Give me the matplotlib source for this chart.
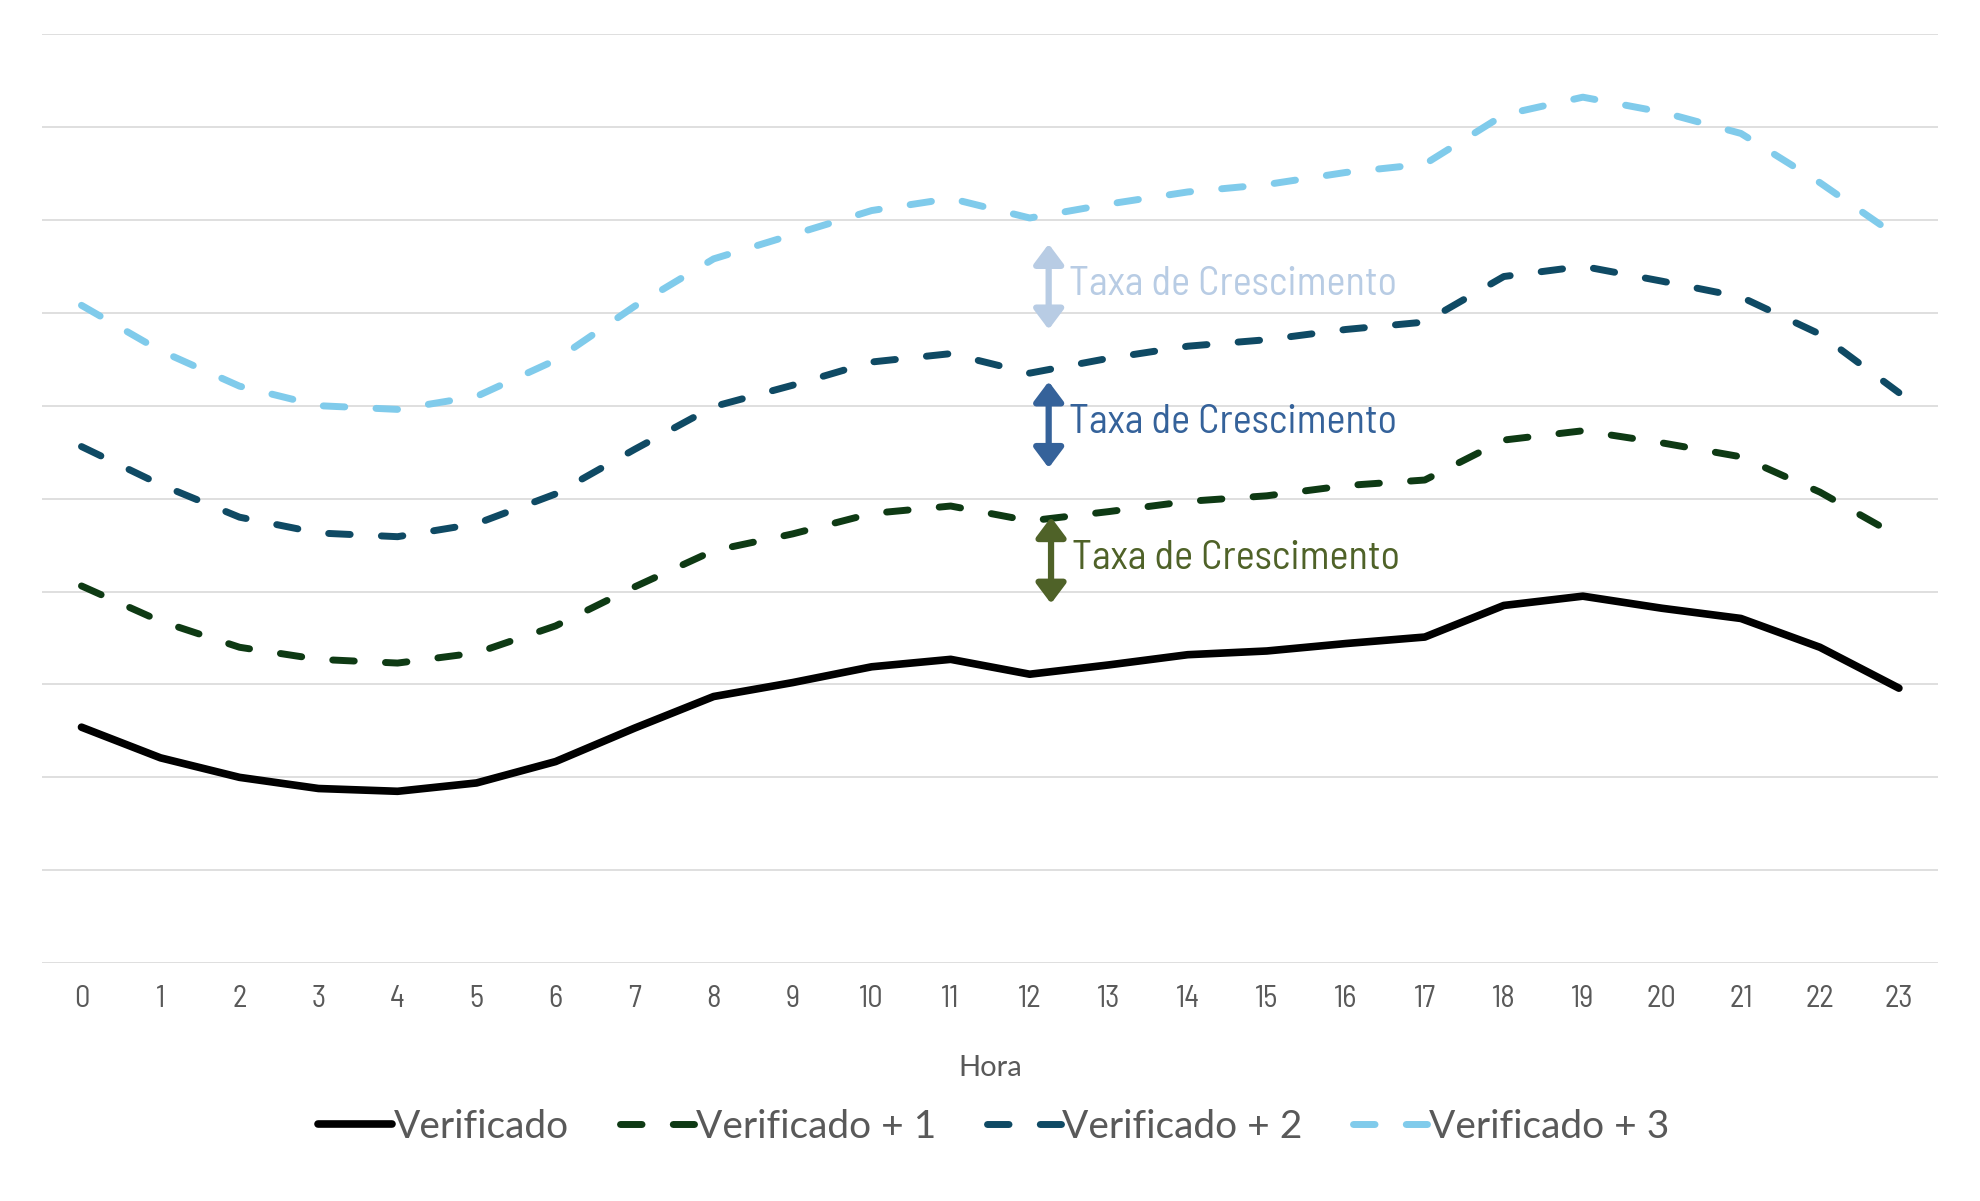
import matplotlib.pyplot as plt

horas = list(range(24))

verificado = [2.54, 2.21, 2.00, 1.88, 1.85, 1.94, 2.17, 2.53, 2.87, 3.02, 3.19, 3.27,
              3.11, 3.21, 3.32, 3.36, 3.44, 3.51, 3.85, 3.95, 3.82, 3.71, 3.40, 2.96]
verificado_1 = [4.06, 3.68, 3.40, 3.27, 3.23, 3.34, 3.63, 4.05, 4.44, 4.62, 4.84, 4.92,
                4.76, 4.86, 4.97, 5.03, 5.14, 5.20, 5.63, 5.73, 5.60, 5.45, 5.07, 4.59]
verificado_2 = [5.56, 5.15, 4.80, 4.63, 4.59, 4.73, 5.05, 5.53, 5.99, 6.22, 6.47, 6.56,
                6.35, 6.51, 6.64, 6.71, 6.82, 6.90, 7.39, 7.50, 7.34, 7.17, 6.77, 6.14]
verificado_3 = [7.08, 6.59, 6.21, 6.00, 5.96, 6.10, 6.49, 7.07, 7.58, 7.84, 8.10, 8.23,
                8.02, 8.17, 8.30, 8.38, 8.51, 8.60, 9.13, 9.32, 9.16, 8.93, 8.40, 7.81]

series = [
    ("Verificado", verificado, "#000000", None),
    ("Verificado + 1", verificado_1, "#0E3A14", (3.1, 4.5)),
    ("Verificado + 2", verificado_2, "#0F4A64", (3.1, 4.5)),
    ("Verificado + 3", verificado_3, "#80CBEB", (3.1, 4.5)),
]

# setas "Taxa de Crescimento": (x, y de baixo, y de cima, cor)
setas = [
    (12.24, 6.82, 7.74, "#B8CCE4"),
    (12.24, 5.33, 6.26, "#35629A"),
    (12.27, 3.87, 4.80, "#4F6228"),
]

narrow = ["Barlow Semi Condensed", "DejaVu Sans"]
normal = ["Lato", "DejaVu Sans"]

fig = plt.figure(figsize=(19.8, 12.01), dpi=100)
ax = fig.add_axes([0.0212, 0.198, 0.979 - 0.0212, 0.9717 - 0.198])

for nome, valores, cor, dash in series:
    line, = ax.plot(horas, valores, color=cor, lw=5.5 if dash is None else 5.0,
                    label=nome, solid_capstyle="round", dash_capstyle="round",
                    solid_joinstyle="round")
    if dash:
        line.set_dashes(dash)

textos = []
for x, y0, y1, cor in setas:
    ax.annotate("", xy=(x, y1), xytext=(x, y0),
                arrowprops=dict(arrowstyle="<|-|>,head_length=0.6,head_width=0.45",
                                lw=4.5, color=cor, shrinkA=0, shrinkB=0,
                                mutation_scale=20))
    t = ax.text(x + 0.26, (y0 + y1) / 2 + 0.02, "Taxa de Crescimento", color=cor,
                fontsize=30, family=narrow, va="center", ha="left")
    textos.append(t)

ax.set_xlim(-0.5, 23.5)
ax.set_ylim(0, 10)
ax.set_xticks(horas)
ax.set_xticklabels([str(h) for h in horas], family=narrow, fontsize=22,
                   color="#595959")
ax.set_yticks(range(11))
ax.set_yticklabels([])
ax.tick_params(length=0, pad=16)
ax.grid(axis="y", color="#D9D9D9", lw=1.2)
ax.set_axisbelow(True)
for s in ax.spines.values():
    s.set_visible(False)

fig.text(0.500, 0.111, "Hora", ha="center", va="center", fontsize=21,
         color="#595959", family=normal)

fig.legend(loc="center", bbox_to_anchor=(0.502, 0.062), ncol=4, frameon=False,
           prop={"family": normal, "size": 28},
           labelcolor="#595959", handlelength=1.9, handletextpad=0.05,
           columnspacing=1.3)

# ajusta o tamanho do texto das setas para a largura do original (~328 px)
fig.canvas.draw()
r = fig.canvas.get_renderer()
for t in textos:
    w = t.get_window_extent(r).width
    t.set_fontsize(30 * 328 / w)

fig.savefig("out.png", dpi=100, facecolor="white")
